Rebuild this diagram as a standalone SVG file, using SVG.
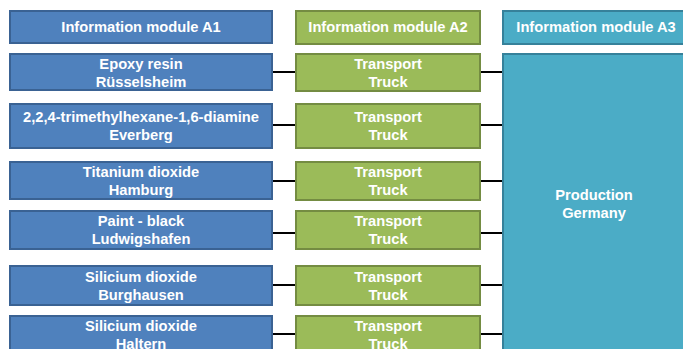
<svg xmlns="http://www.w3.org/2000/svg" width="683" height="349" viewBox="0 0 683 349">
<style>
.b{fill:#4F81BD;stroke:#3A6293;stroke-width:2}
.g{fill:#9BBB59;stroke:#748C42;stroke-width:2}
.t{fill:#4BACC6;stroke:#36819A;stroke-width:2}
text{font-family:"Liberation Sans",Arial,sans-serif;font-weight:bold;font-size:14.7px;fill:#fff;text-anchor:middle}
.c line{stroke:#000;stroke-width:2}
</style>
<rect width="683" height="349" fill="#fff"/>
<g class="c">
<line x1="273" y1="72" x2="296" y2="72"/><line x1="480" y1="72" x2="502" y2="72"/>
<line x1="273" y1="125" x2="296" y2="125"/><line x1="480" y1="125" x2="502" y2="125"/>
<line x1="273" y1="181" x2="296" y2="181"/><line x1="480" y1="181" x2="502" y2="181"/>
<line x1="273" y1="233" x2="296" y2="233"/><line x1="480" y1="233" x2="502" y2="233"/>
<line x1="273" y1="285" x2="296" y2="285"/><line x1="480" y1="285" x2="502" y2="285"/>
<line x1="273" y1="334" x2="296" y2="334"/><line x1="480" y1="334" x2="502" y2="334"/>
</g>
<g id="hA1"><rect class="b" x="10" y="11" width="262" height="32"/><text x="141" y="32">Information module A1</text></g>
<g id="hA2"><rect class="g" x="296" y="11" width="184" height="33"/><text x="388" y="32">Information module A2</text></g>
<g id="hA3"><rect class="t" x="503" y="11" width="190" height="33"/><text x="596" y="32">Information module A3</text></g>
<g id="a1"><rect class="b" x="10" y="54" width="262" height="36"/><text x="141" y="69">Epoxy resin</text><text x="141" y="87">Rüsselsheim</text></g>
<g id="a2"><rect class="b" x="10" y="104" width="262" height="44"/><text x="141" y="122">2,2,4-trimethylhexane-1,6-diamine</text><text x="141" y="140">Everberg</text></g>
<g id="a3"><rect class="b" x="10" y="162" width="262" height="37"/><text x="141" y="177">Titanium dioxide</text><text x="141" y="195">Hamburg</text></g>
<g id="a4"><rect class="b" x="10" y="211" width="262" height="38"/><text x="141" y="226">Paint - black</text><text x="141" y="244">Ludwigshafen</text></g>
<g id="a5"><rect class="b" x="10" y="266" width="262" height="39"/><text x="141" y="282">Silicium dioxide</text><text x="141" y="300">Burghausen</text></g>
<g id="a6"><rect class="b" x="10" y="316" width="262" height="40"/><text x="141" y="331">Silicium dioxide</text><text x="141" y="349">Haltern</text></g>
<g id="t1"><rect class="g" x="296" y="54" width="184" height="37"/><text x="388" y="69">Transport</text><text x="388" y="87">Truck</text></g>
<g id="t2"><rect class="g" x="296" y="104" width="184" height="44"/><text x="388" y="122">Transport</text><text x="388" y="140">Truck</text></g>
<g id="t3"><rect class="g" x="296" y="162" width="184" height="38"/><text x="388" y="177">Transport</text><text x="388" y="195">Truck</text></g>
<g id="t4"><rect class="g" x="296" y="211" width="184" height="38"/><text x="388" y="226">Transport</text><text x="388" y="244">Truck</text></g>
<g id="t5"><rect class="g" x="296" y="266" width="184" height="39"/><text x="388" y="282">Transport</text><text x="388" y="300">Truck</text></g>
<g id="t6"><rect class="g" x="296" y="316" width="184" height="40"/><text x="388" y="331">Transport</text><text x="388" y="349">Truck</text></g>
<g id="p"><rect class="t" x="503" y="54" width="190" height="310"/><text x="594" y="200">Production</text><text x="594" y="218">Germany</text></g>
</svg>
